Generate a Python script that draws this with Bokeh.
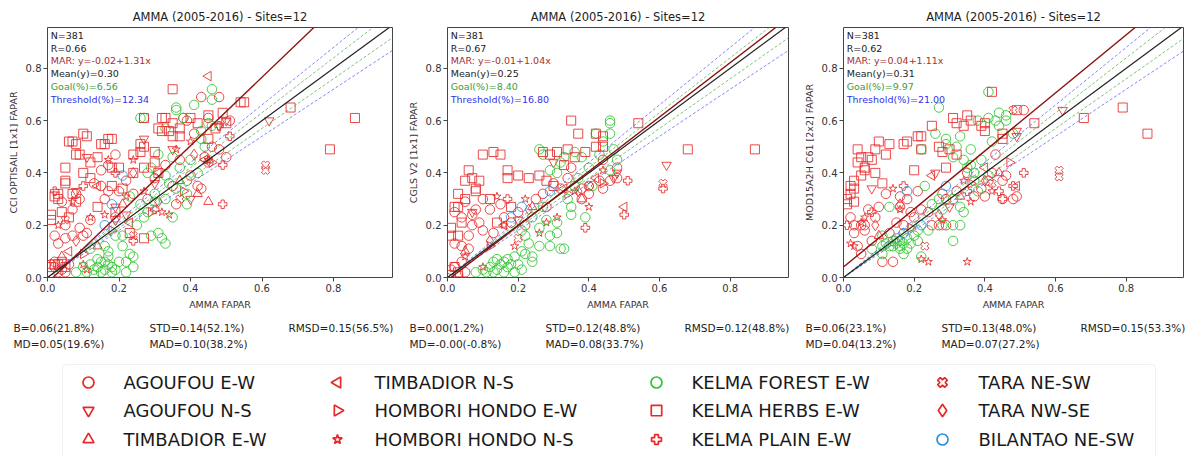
import numpy as np
from bokeh.plotting import figure
from bokeh.layouts import column, row
from bokeh.models import Range1d, Slope, Label, BoxAnnotation, FixedTicker, PrintfTickFormatter
from bokeh.core.properties import value
from bokeh.embed import file_html
from bokeh.resources import INLINE

FONT = "DejaVu Sans"
TITLE = "AMMA (2005-2016) - Sites=12"
XLABEL = "AMMA FAPAR"
YLABELS = ["CCI OPTISAIL [1x1] FAPAR", "CGLS V2 [1x1] FAPAR", "MOD15A2H C61 [2x2] FAPAR"]
TICKS = [0.0, 0.2, 0.4, 0.6, 0.8]

SITES = ["AGOUFOU E-W", "AGOUFOU N-S", "TIMBADIOR E-W", "TIMBADIOR N-S",
         "HOMBORI HONDO E-W", "HOMBORI HONDO N-S", "KELMA FOREST E-W", "KELMA HERBS E-W",
         "KELMA PLAIN E-W", "TARA NE-SW", "TARA NW-SE", "BILANTAO NE-SW"]

# regression (MAR) lines, goal / threshold factors
MAR_INTERCEPT = [-0.02, -0.01, 0.04]
MAR_SLOPE = [1.31, 1.04, 1.11]
GOAL_FACTOR = 0.05
THRESH_FACTOR = 0.10

INFO_P1 = ["N=381", "R=0.66", "MAR: y=-0.02+1.31x", "Mean(y)=0.30", "Goal(%)=6.56", "Threshold(%)=12.34"]
INFO_P2 = ["N=381", "R=0.67", "MAR: y=-0.01+1.04x", "Mean(y)=0.25", "Goal(%)=8.40", "Threshold(%)=16.80"]
INFO_P3 = ["N=381", "R=0.62", "MAR: y=0.04+1.11x", "Mean(y)=0.31", "Goal(%)=9.97", "Threshold(%)=21.00"]

STATS_P1 = ["B=0.06(21.8%)", "MD=0.05(19.6%)", "STD=0.14(52.1%)", "MAD=0.10(38.2%)", "RMSD=0.15(56.5%)"]
STATS_P2 = ["B=0.00(1.2%)", "MD=-0.00(-0.8%)", "STD=0.12(48.8%)", "MAD=0.08(33.7%)", "RMSD=0.12(48.8%)"]
STATS_P3 = ["B=0.06(23.1%)", "MD=0.04(13.2%)", "STD=0.13(48.0%)", "MAD=0.07(27.2%)", "RMSD=0.15(53.3%)"]

# ---------------- Panel 1 : CCI OPTISAIL ----------------
P1_AGOUFOU_EW = [(0.01,0.05),(0.02,0.06),(0.03,0.02),(0.04,0.03),(0.05,0.02),(0.02,0.04),(0.06,0.05),
    (0.02,0.16),(0.03,0.13),(0.05,0.15),(0.07,0.16),(0.09,0.19),(0.10,0.16),(0.11,0.17),(0.12,0.22),
    (0.04,0.29),(0.08,0.32),(0.09,0.30),(0.07,0.26),(0.05,0.20),(0.15,0.41),(0.17,0.43),(0.19,0.47),
    (0.15,0.35),(0.17,0.33),(0.20,0.33),(0.19,0.23),(0.22,0.37),(0.24,0.32),(0.13,0.36),(0.16,0.30),
    (0.35,0.35),(0.40,0.39),(0.42,0.35),(0.43,0.34),(0.44,0.46),(0.45,0.44),(0.48,0.49),(0.50,0.46),
    (0.38,0.61),(0.39,0.60),(0.43,0.69),(0.48,0.69),(0.51,0.60),(0.45,0.61),(0.30,0.38),(0.33,0.43),
    (0.37,0.45),(0.41,0.55),(0.28,0.30),(0.36,0.28),(0.46,0.50)]
P1_AGOUFOU_NS = [(0.27,0.53),(0.08,0.33),(0.19,0.27),(0.50,0.60),(0.48,0.58),(0.62,0.60),(0.11,0.46),
    (0.30,0.36),(0.40,0.30),(0.22,0.24),(0.35,0.49)]
P1_TIMBADIOR_EW = [(0.42,0.32),(0.21,0.28),(0.04,0.08),(0.37,0.37),(0.45,0.29),(0.14,0.12)]
P1_TIMBADIOR_NS = [(0.45,0.77),(0.14,0.35),(0.44,0.45),(0.23,0.21),(0.31,0.40),(0.06,0.10)]
P1_HOMBORI_EW = [(0.46,0.44),(0.29,0.25),(0.10,0.09),(0.38,0.33),(0.18,0.18)]
P1_HOMBORI_NS = [(0.17,0.45),(0.24,0.45),(0.22,0.31),(0.12,0.23),(0.16,0.24),(0.32,0.25),(0.34,0.24),
    (0.36,0.49),(0.10,0.05),(0.11,0.03),(0.45,0.45),(0.07,0.29),(0.27,0.33),(0.40,0.52),(0.03,0.20)]
P1_KELMA_FOREST = [(0.11,0.02),(0.13,0.03),(0.14,0.04),(0.15,0.06),(0.17,0.10),(0.17,0.08),(0.16,0.06),
    (0.18,0.04),(0.19,0.03),(0.22,0.02),(0.21,0.12),(0.23,0.09),(0.24,0.08),(0.24,0.04),(0.19,0.16),
    (0.21,0.16),(0.29,0.16),(0.31,0.17),(0.32,0.15),(0.33,0.13),(0.08,0.02),(0.14,0.07),(0.15,0.02),
    (0.18,0.02),(0.12,0.05),(0.10,0.04),(0.20,0.06),(0.22,0.06),(0.16,0.03),(0.13,0.01),(0.17,0.05),
    (0.12,0.11),(0.16,0.12),(0.30,0.32),(0.30,0.29),(0.33,0.30),(0.35,0.23),(0.27,0.23),(0.26,0.28),
    (0.36,0.65),(0.41,0.66),(0.46,0.68),(0.27,0.61),(0.33,0.57),(0.43,0.56),(0.43,0.53),(0.45,0.59),
    (0.46,0.58),(0.39,0.28),(0.39,0.32),(0.36,0.34),(0.37,0.42),(0.39,0.37),(0.33,0.39),(0.35,0.46),
    (0.29,0.42),(0.31,0.47),(0.23,0.31),(0.28,0.40),(0.46,0.72),(0.36,0.64),(0.26,0.61),(0.38,0.61),
    (0.44,0.50),(0.40,0.45),(0.42,0.40),(0.34,0.36),(0.25,0.20),(0.28,0.25)]
P1_KELMA_HERBS = [(0.11,0.54),(0.07,0.52),(0.08,0.51),(0.16,0.51),(0.18,0.53),(0.08,0.47),(0.09,0.47),
    (0.12,0.44),(0.14,0.46),(0.18,0.42),(0.20,0.42),(0.24,0.47),(0.26,0.48),(0.30,0.48),(0.27,0.50),
    (0.33,0.61),(0.35,0.59),(0.32,0.56),(0.34,0.56),(0.37,0.57),(0.40,0.61),(0.42,0.59),(0.45,0.62),
    (0.49,0.63),(0.55,0.67),(0.50,0.59),(0.47,0.57),(0.45,0.53),(0.37,0.54),(0.35,0.54),(0.30,0.44),
    (0.05,0.42),(0.05,0.37),(0.05,0.36),(0.02,0.31),(0.03,0.32),(0.03,0.30),(0.07,0.32),(0.08,0.29),
    (0.14,0.27),(0.01,0.24),(0.01,0.22),(0.06,0.23),(0.18,0.35),(0.21,0.34),(0.24,0.40),(0.27,0.42),
    (0.31,0.40),(0.19,0.25),(0.23,0.17),(0.27,0.15),(0.02,0.05),(0.04,0.06),(0.68,0.65),(0.86,0.61),
    (0.79,0.49),(0.35,0.72),(0.54,0.67),(0.27,0.61),(0.32,0.61),(0.06,0.52),(0.10,0.55),(0.17,0.53),
    (0.15,0.51),(0.26,0.51),(0.31,0.57),(0.03,0.05),(0.01,0.04),(0.05,0.04),(0.04,0.25),(0.12,0.38),
    (0.10,0.40)]
P1_KELMA_PLAIN = [(0.10,0.35),(0.49,0.28),(0.24,0.14),(0.49,0.43),(0.48,0.58),(0.51,0.54),(0.02,0.33),
    (0.30,0.26),(0.19,0.40)]
P1_TARA_NESW = [(0.61,0.43),(0.61,0.41),(0.45,0.45),(0.24,0.16),(0.37,0.30),(0.05,0.22)]
P1_TARA_NWSE = [(0.24,0.40),(0.19,0.22),(0.08,0.14),(0.31,0.29),(0.41,0.47)]
P1_BILANTAO = [(0.21,0.39),(0.18,0.28),(0.16,0.20)]

# ---------------- Panel 2 : CGLS V2 ----------------
P2_AGOUFOU_EW = [(0.05,0.29),(0.02,0.25),(0.04,0.23),(0.07,0.24),(0.08,0.26),(0.09,0.21),(0.07,0.20),
    (0.10,0.18),(0.02,0.13),(0.04,0.12),(0.06,0.11),(0.15,0.28),(0.16,0.23),(0.18,0.21),(0.20,0.25),
    (0.25,0.30),(0.27,0.32),(0.30,0.36),(0.32,0.34),(0.34,0.38),(0.38,0.34),(0.40,0.35),(0.43,0.37),
    (0.44,0.34),(0.46,0.37),(0.48,0.38),(0.48,0.42),(0.40,0.32),(0.38,0.30),(0.01,0.03),(0.02,0.04),
    (0.04,0.06),(0.05,0.02),(0.03,0.01),(0.12,0.26),(0.22,0.20),(0.28,0.27),(0.35,0.42),(0.44,0.45),
    (0.10,0.30),(0.06,0.16),(0.13,0.17)]
P2_AGOUFOU_NS = [(0.62,0.43),(0.47,0.38),(0.07,0.25),(0.30,0.44),(0.48,0.40),(0.20,0.22)]
P2_TIMBADIOR_EW = [(0.38,0.30),(0.05,0.10),(0.24,0.27)]
P2_TIMBADIOR_NS = [(0.50,0.27),(0.16,0.20),(0.42,0.38),(0.33,0.34)]
P2_HOMBORI_EW = [(0.34,0.32),(0.44,0.36),(0.12,0.12)]
P2_HOMBORI_NS = [(0.14,0.31),(0.22,0.30),(0.10,0.04),(0.26,0.17),(0.40,0.27),(0.31,0.23),(0.16,0.20),
    (0.05,0.08),(0.36,0.33),(0.44,0.41),(0.19,0.12),(0.28,0.21)]
P2_KELMA_FOREST = [(0.11,0.02),(0.12,0.04),(0.13,0.06),(0.14,0.07),(0.15,0.05),(0.16,0.06),(0.17,0.04),
    (0.16,0.02),(0.19,0.02),(0.21,0.03),(0.08,0.02),(0.10,0.03),(0.19,0.08),(0.22,0.09),(0.24,0.08),
    (0.24,0.06),(0.21,0.10),(0.26,0.19),(0.29,0.12),(0.29,0.16),(0.32,0.11),(0.33,0.11),(0.31,0.17),
    (0.31,0.21),(0.35,0.24),(0.35,0.27),(0.39,0.23),(0.27,0.47),(0.26,0.49),(0.29,0.41),(0.31,0.40),
    (0.32,0.44),(0.33,0.46),(0.36,0.48),(0.38,0.46),(0.42,0.55),(0.46,0.60),(0.46,0.59),(0.46,0.55),
    (0.44,0.52),(0.47,0.49),(0.46,0.41),(0.48,0.45),(0.36,0.35),(0.37,0.38),(0.41,0.35),(0.27,0.27),
    (0.24,0.23),(0.21,0.18),(0.22,0.16),(0.26,0.12),(0.28,0.22),(0.14,0.03),(0.18,0.05),(0.13,0.02),
    (0.20,0.05),(0.17,0.07),(0.23,0.13),(0.40,0.42),(0.43,0.47),(0.34,0.30)]
P2_KELMA_HERBS = [(0.35,0.60),(0.37,0.55),(0.10,0.47),(0.13,0.48),(0.15,0.47),(0.06,0.41),(0.05,0.37),
    (0.07,0.38),(0.09,0.37),(0.08,0.34),(0.03,0.32),(0.08,0.33),(0.03,0.27),(0.02,0.27),(0.01,0.19),
    (0.03,0.16),(0.01,0.16),(0.17,0.41),(0.17,0.38),(0.20,0.39),(0.23,0.38),(0.26,0.39),(0.27,0.48),
    (0.29,0.47),(0.31,0.48),(0.34,0.49),(0.39,0.48),(0.42,0.50),(0.44,0.54),(0.44,0.50),(0.54,0.59),
    (0.14,0.21),(0.18,0.27),(0.28,0.37),(0.30,0.35),(0.42,0.55),(0.68,0.49),(0.87,0.49),(0.36,0.46),
    (0.33,0.43),(0.02,0.04),(0.03,0.02),(0.01,0.01),(0.04,0.21),(0.12,0.30),(0.05,0.30)]
P2_KELMA_PLAIN = [(0.50,0.24),(0.39,0.19),(0.51,0.37),(0.61,0.34),(0.17,0.30)]
P2_TARA_NESW = [(0.61,0.36),(0.40,0.35),(0.20,0.15)]
P2_TARA_NWSE = [(0.23,0.26),(0.12,0.14),(0.37,0.33)]
P2_BILANTAO = [(0.21,0.27),(0.29,0.33),(0.18,0.23)]

# ---------------- Panel 3 : MOD15A2H C61 ----------------
P3_AGOUFOU_EW = [(0.02,0.23),(0.03,0.20),(0.05,0.20),(0.06,0.20),(0.06,0.18),(0.03,0.17),(0.04,0.12),
    (0.05,0.09),(0.09,0.23),(0.10,0.27),(0.16,0.27),(0.16,0.31),(0.18,0.30),(0.15,0.21),(0.19,0.25),
    (0.17,0.20),(0.20,0.23),(0.22,0.26),(0.24,0.25),(0.25,0.20),(0.29,0.20),(0.27,0.20),(0.11,0.06),
    (0.14,0.06),(0.28,0.32),(0.29,0.30),(0.32,0.33),(0.39,0.34),(0.41,0.37),(0.42,0.40),(0.45,0.37),
    (0.46,0.39),(0.45,0.30),(0.48,0.30),(0.49,0.31),(0.37,0.31),(0.40,0.31),(0.51,0.64),(0.12,0.32),
    (0.08,0.14),(0.21,0.33),(0.35,0.40),(0.43,0.47),(0.13,0.17),(0.07,0.26)]
P3_AGOUFOU_NS = [(0.62,0.64),(0.49,0.54),(0.08,0.34),(0.26,0.40),(0.49,0.56),(0.30,0.27)]
P3_TIMBADIOR_EW = [(0.44,0.40),(0.10,0.16),(0.33,0.31)]
P3_TIMBADIOR_NS = [(0.49,0.35),(0.25,0.39),(0.40,0.42)]
P3_HOMBORI_EW = [(0.47,0.44),(0.19,0.19),(0.36,0.36)]
P3_HOMBORI_NS = [(0.35,0.06),(0.24,0.06),(0.14,0.34),(0.06,0.23),(0.02,0.13),(0.03,0.12),(0.36,0.29),
    (0.34,0.37),(0.22,0.07),(0.16,0.26),(0.28,0.22),(0.42,0.33),(0.05,0.21)]
P3_KELMA_FOREST = [(0.27,0.65),(0.26,0.55),(0.29,0.53),(0.29,0.51),(0.33,0.54),(0.36,0.49),(0.32,0.50),
    (0.31,0.46),(0.34,0.45),(0.36,0.43),(0.35,0.42),(0.37,0.40),(0.38,0.60),(0.41,0.61),(0.43,0.60),
    (0.44,0.63),(0.46,0.62),(0.44,0.58),(0.46,0.60),(0.48,0.55),(0.22,0.49),(0.23,0.35),(0.27,0.30),
    (0.25,0.28),(0.28,0.26),(0.31,0.30),(0.33,0.27),(0.34,0.25),(0.31,0.20),(0.33,0.20),(0.37,0.37),
    (0.38,0.33),(0.41,0.39),(0.21,0.18),(0.22,0.08),(0.24,0.18),(0.12,0.13),(0.14,0.14),(0.15,0.13),
    (0.16,0.14),(0.16,0.12),(0.17,0.13),(0.16,0.11),(0.13,0.12),(0.11,0.09),(0.11,0.12),(0.18,0.15),
    (0.19,0.13),(0.17,0.09),(0.21,0.14),(0.08,0.11),(0.11,0.16),(0.31,0.14),(0.13,0.27),(0.28,0.20),
    (0.41,0.71),(0.14,0.12),(0.15,0.15),(0.18,0.11),(0.20,0.16),(0.39,0.45),(0.42,0.52)]
P3_KELMA_HERBS = [(0.42,0.71),(0.31,0.61),(0.35,0.62),(0.36,0.60),(0.32,0.59),(0.34,0.58),(0.39,0.58),
    (0.40,0.59),(0.45,0.55),(0.45,0.53),(0.40,0.56),(0.49,0.64),(0.54,0.59),(0.25,0.58),(0.22,0.54),
    (0.18,0.52),(0.17,0.51),(0.13,0.51),(0.10,0.52),(0.09,0.49),(0.07,0.46),(0.05,0.46),(0.04,0.49),
    (0.08,0.45),(0.06,0.42),(0.06,0.41),(0.09,0.40),(0.05,0.39),(0.03,0.37),(0.02,0.35),(0.03,0.34),
    (0.02,0.32),(0.01,0.30),(0.01,0.28),(0.11,0.36),(0.20,0.41),(0.22,0.49),(0.27,0.50),(0.28,0.48),
    (0.30,0.49),(0.29,0.42),(0.32,0.47),(0.79,0.65),(0.86,0.55),(0.68,0.61),(0.21,0.54),(0.03,0.29),
    (0.04,0.44),(0.12,0.47)]
P3_KELMA_PLAIN = [(0.17,0.35),(0.01,0.20),(0.51,0.40),(0.48,0.35),(0.45,0.30),(0.44,0.33),(0.08,0.25),
    (0.35,0.33)]
P3_TARA_NESW = [(0.61,0.41),(0.61,0.385),(0.48,0.64),(0.42,0.36),(0.23,0.12)]
P3_TARA_NWSE = [(0.27,0.24),(0.16,0.28),(0.09,0.20),(0.40,0.37)]
P3_BILANTAO = [(0.18,0.33),(0.29,0.35),(0.22,0.20),(0.17,0.17)]

PANEL_DATA = [
    [P1_AGOUFOU_EW, P1_AGOUFOU_NS, P1_TIMBADIOR_EW, P1_TIMBADIOR_NS, P1_HOMBORI_EW, P1_HOMBORI_NS,
     P1_KELMA_FOREST, P1_KELMA_HERBS, P1_KELMA_PLAIN, P1_TARA_NESW, P1_TARA_NWSE, P1_BILANTAO],
    [P2_AGOUFOU_EW, P2_AGOUFOU_NS, P2_TIMBADIOR_EW, P2_TIMBADIOR_NS, P2_HOMBORI_EW, P2_HOMBORI_NS,
     P2_KELMA_FOREST, P2_KELMA_HERBS, P2_KELMA_PLAIN, P2_TARA_NESW, P2_TARA_NWSE, P2_BILANTAO],
    [P3_AGOUFOU_EW, P3_AGOUFOU_NS, P3_TIMBADIOR_EW, P3_TIMBADIOR_NS, P3_HOMBORI_EW, P3_HOMBORI_NS,
     P3_KELMA_FOREST, P3_KELMA_HERBS, P3_KELMA_PLAIN, P3_TARA_NESW, P3_TARA_NWSE, P3_BILANTAO],
]

RED = "#e62a2a"
GREEN = "#2ec42e"
BLUE = "#2b93dc"
STYLE = {
    "AGOUFOU E-W": ("circle", 0.0, RED, 1.0),
    "AGOUFOU N-S": ("inverted_triangle", 0.0, RED, 1.0),
    "TIMBADIOR E-W": ("triangle", 0.0, RED, 1.0),
    "TIMBADIOR N-S": ("triangle", np.pi / 2, RED, 1.0),
    "HOMBORI HONDO E-W": ("triangle", -np.pi / 2, RED, 1.0),
    "HOMBORI HONDO N-S": ("star", 0.0, RED, 0.9),
    "KELMA FOREST E-W": ("circle", 0.0, GREEN, 1.0),
    "KELMA HERBS E-W": ("square", 0.0, RED, 0.95),
    "KELMA PLAIN E-W": ("plus", 0.0, RED, 0.9),
    "TARA NE-SW": ("plus", np.pi / 4, RED, 0.9),
    "TARA NW-SE": ("diamond", 0.0, RED, 1.15),
    "BILANTAO NE-SW": ("circle", 0.0, BLUE, 1.0),
}
INFO_COLORS = ["#222222", "#222222", "#a83030", "#222222", "#3c9c3c", "#3232e6"]

XMAX = [0.965, 0.965, 0.962]
FIG_W = [404, 396, 390]
BORDER_L = [47, 39, 39]
BORDER_R = [12, 12, 7]
TOP_H = 312


def make_panel(i, ylabel, info):
    p = figure(width=FIG_W[i], height=TOP_H, x_range=Range1d(0, XMAX[i]), y_range=Range1d(0, 0.956),
               output_backend="svg", toolbar_location=None,
               min_border_left=BORDER_L[i], min_border_right=BORDER_R[i], min_border_top=27,
               min_border_bottom=34)
    p.title.text = TITLE
    p.title.align = "center"
    p.title.vertical_align = "middle"
    p.title.text_font = FONT
    p.title.text_font_size = "11.5px"
    p.title.text_font_style = "normal"
    p.title.text_color = "#222222"
    p.title.standoff = 6
    p.grid.visible = False
    p.outline_line_color = "#444444"
    p.outline_line_width = 1
    p.outline_line_alpha = 1
    for ax in (p.xaxis[0], p.yaxis[0]):
        ax.ticker = FixedTicker(ticks=TICKS)
        ax.formatter = PrintfTickFormatter(format="%.1f")
        ax.axis_line_color = None
        ax.major_tick_out = 4
        ax.major_tick_in = 0
        ax.minor_tick_out = 0
        ax.minor_tick_in = 0
        ax.major_tick_line_color = "#444444"
        ax.major_label_text_font = FONT
        ax.major_label_text_font_size = "10px"
        ax.major_label_text_color = "#333333"
        ax.major_label_standoff = 2
        ax.axis_label_text_font = FONT
        ax.axis_label_text_font_size = "9.5px"
        ax.axis_label_text_font_style = "normal"
        ax.axis_label_text_color = "#333333"
        ax.axis_label_standoff = 4
    p.xaxis.axis_label = XLABEL
    p.yaxis.axis_label = ylabel

    for site, pts in zip(SITES, PANEL_DATA[i]):
        marker, ang, col, sc = STYLE[site]
        xs = [a for a, b in pts]
        ys = [b for a, b in pts]
        p.scatter(xs, ys, marker=marker, angle=ang, size=9.5 * sc, fill_color=None,
                  line_color=col, line_alpha=0.85, line_width=1.0)

    p.add_layout(Slope(gradient=1 + THRESH_FACTOR, y_intercept=0, line_color="#5555ee", line_width=0.7, line_dash="3 2"))
    p.add_layout(Slope(gradient=1 - THRESH_FACTOR, y_intercept=0, line_color="#5555ee", line_width=0.7, line_dash="3 2"))
    p.add_layout(Slope(gradient=1 + GOAL_FACTOR, y_intercept=0, line_color="#44aa44", line_width=0.7, line_dash="3 2"))
    p.add_layout(Slope(gradient=1 - GOAL_FACTOR, y_intercept=0, line_color="#44aa44", line_width=0.7, line_dash="3 2"))
    p.add_layout(Slope(gradient=1, y_intercept=0, line_color="#222222", line_width=1.2))
    p.add_layout(Slope(gradient=MAR_SLOPE[i], y_intercept=MAR_INTERCEPT[i], line_color="#8b1212", line_width=1.4))

    for k, (t, c) in enumerate(zip(info, INFO_COLORS)):
        p.add_layout(Label(x=0.009, y=0.926 - 0.0488 * k, text=t, text_color=c, text_font=FONT,
                           text_font_size="9.5px", text_baseline="middle", text_align="left"))
    return p


panels = [make_panel(0, YLABELS[0], INFO_P1), make_panel(1, YLABELS[1], INFO_P2),
          make_panel(2, YLABELS[2], INFO_P3)]

# ---------------- bottom strip: statistics + legend ----------------
BW = sum(FIG_W)
BH = 456 - TOP_H
pb = figure(width=BW, height=BH, x_range=Range1d(0, BW), y_range=Range1d(BH, 0),
            output_backend="svg", toolbar_location=None, x_axis_location=None, y_axis_location=None,
            min_border=0)
pb.grid.visible = False
pb.outline_line_color = None

STATS = [STATS_P1, STATS_P2, STATS_P3]
frame_left = [47, 443, 839]
sx, sy, st = [], [], []
for fl, s in zip(frame_left, STATS):
    offs = [(-34, 15), (-34, 31), (102, 15), (102, 31), (241, 15)]
    for (dx, yy), t in zip(offs, s):
        sx.append(fl + dx)
        sy.append(yy)
        st.append(t)
pb.text(x=sx, y=sy, text=st, text_font=value(FONT), text_font_size="10.5px",
        text_baseline="middle", text_align="left", text_color="#222222")

pb.add_layout(BoxAnnotation(left=62, right=1155, top=52, bottom=BH + 6, fill_color="white",
                            fill_alpha=1, line_color="#cccccc", line_width=1, border_radius=4,
                            level="underlay"))
col_marker_x = [88, 337, 656, 942]
col_text_x = [123, 374, 691, 978]
row_y = [70, 98, 127]
for j, site in enumerate(SITES):
    c, r = j // 3, j % 3
    marker, ang, col, sc = STYLE[site]
    pb.scatter([col_marker_x[c]], [row_y[r]], marker=marker, angle=ang, size=11 * sc,
               fill_color=None, line_color=col, line_width=1.7)
pb.text(x=[col_text_x[j // 3] for j in range(12)], y=[row_y[j % 3] for j in range(12)], text=SITES,
        text_font=value(FONT), text_font_size="18px", text_baseline="middle", text_align="left",
        text_color="#1a1a1a")

layout = column(row(*panels, spacing=0), pb, spacing=0)
open("out.html", "w").write(file_html(layout, INLINE))
